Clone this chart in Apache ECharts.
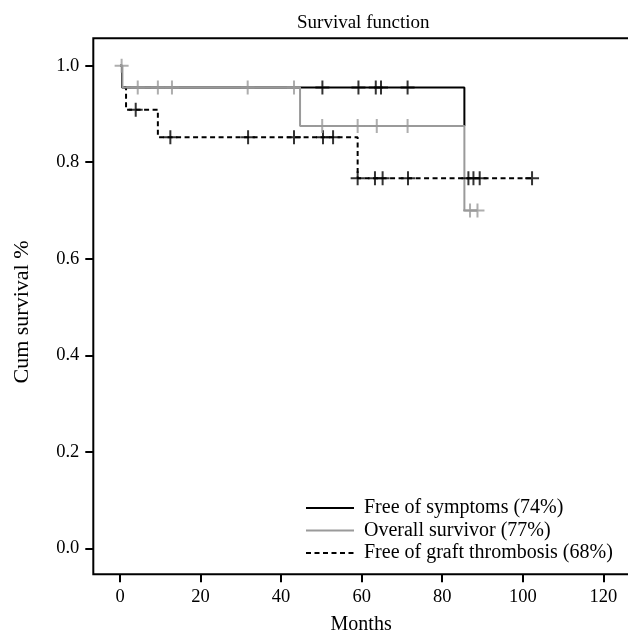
<!DOCTYPE html>
<html>
<head>
<meta charset="utf-8">
<script src="https://cdn.jsdelivr.net/npm/echarts@6/dist/echarts.min.js"></script>
<style>html,body{margin:0;padding:0;background:#fff;overflow:hidden}#c{width:628px;height:631px}</style>
</head>
<body>
<div id="c"></div>
<script>
// Step curves: [month, survival after that time]
var symptomsSteps = [[0, 1.0], [0.5, 0.955], [85.5, 0.875]];
var survivorSteps = [[0, 1.0], [0.6, 0.955], [44.7, 0.875], [85.5, 0.700], [88.75, 0.700]];
var thrombosisSteps = [[0, 1.0], [0.5, 0.955], [1.5, 0.909], [9.4, 0.852], [59.0, 0.767], [102.3, 0.767]];

// Censored observations: [month, survival]
var symptomsCensor = [[50.25, 0.955], [59.2, 0.955], [63.5, 0.955], [64.8, 0.955], [71.4, 0.955]];
var survivorCensor = [[0.4, 1.0], [4.4, 0.955], [9.4, 0.955], [12.9, 0.955], [31.7, 0.955], [43.2, 0.955],
  [50.2, 0.875], [59.0, 0.875], [63.75, 0.875], [71.4, 0.875], [86.9, 0.700], [88.75, 0.700]];
var thrombosisCensor = [[3.9, 0.909], [12.5, 0.852], [31.8, 0.852], [43.2, 0.852], [50.4, 0.852], [52.9, 0.852],
  [59.0, 0.767], [63.3, 0.767], [65.2, 0.767], [71.5, 0.767], [86.5, 0.767], [87.75, 0.767], [89.3, 0.767], [102.3, 0.767]];

var seriesNames = ['Free of symptoms (74%)', 'Overall survivor (77%)', 'Free of graft thrombosis (68%)'];
var xTicks = [0, 20, 40, 60, 80, 100, 120];
var yTicks = [0.0, 0.2, 0.4, 0.6, 0.8, 1.0];

var FONT = '"Liberation Serif", "DejaVu Serif", serif';
var GRAY = '#9a9a9a';
var CROSS = 'path://M5,0L5,10M0,5L10,5';

function censorSeries(data, color) {
  return {
    type: 'scatter', data: data, symbol: CROSS, symbolSize: 14, symbolKeepAspect: true,
    itemStyle: { color: 'none', borderColor: color, borderWidth: 2 },
    silent: true, z: 5
  };
}

var chart = echarts.init(document.getElementById('c'), null, { renderer: 'canvas', width: 628, height: 631 });
chart.setOption({
  animation: false,
  backgroundColor: '#fff',
  title: {
    text: 'Survival function', left: 292, top: 9,
    textStyle: { fontFamily: FONT, fontSize: 19, fontWeight: 'normal', color: '#000' }
  },
  legend: {
    data: seriesNames, orient: 'vertical', left: 305, top: 498,
    itemWidth: 48, itemHeight: 14, itemGap: 2.5, padding: 0,
    itemStyle: { opacity: 0, borderWidth: 0 },
    textStyle: { fontFamily: FONT, fontSize: 20, color: '#000', padding: [0, 0, 0, 5] }
  },
  grid: {
    left: 93.3, right: -1, top: 38.3, bottom: 631 - 574.3,
    outerBoundsMode: 'none', containLabel: false,
    show: true, borderColor: '#000', borderWidth: 2, backgroundColor: 'transparent'
  },
  graphic: [{
    type: 'text', x: 22, y: 312, rotation: Math.PI / 2,
    style: { text: 'Cum survival %', fontFamily: FONT, fontSize: 22, fill: '#000', align: 'center', verticalAlign: 'middle' }
  }],
  xAxis: {
    type: 'value', min: -6.63, max: 126.37,
    name: 'Months', nameLocation: 'middle', nameGap: 40,
    nameTextStyle: { fontFamily: FONT, fontSize: 20, color: '#000' },
    axisLine: { show: false, onZero: false },
    axisTick: { show: true, inside: false, length: 8, lineStyle: { color: '#000', width: 2 }, customValues: xTicks },
    axisLabel: { fontFamily: FONT, fontSize: 18.5, color: '#000', margin: 13, customValues: xTicks },
    splitLine: { show: false }
  },
  yAxis: {
    type: 'value', min: -0.0539, max: 1.0568,
    axisLine: { show: false, onZero: false },
    axisTick: { show: true, inside: false, length: 8, lineStyle: { color: '#000', width: 2 }, customValues: yTicks },
    axisLabel: { fontFamily: FONT, fontSize: 18.5, color: '#000', margin: 14, customValues: yTicks,
      formatter: function (v) { return v.toFixed(1); } },
    splitLine: { show: false }
  },
  series: [
    { name: seriesNames[0], type: 'line', step: 'end', data: symptomsSteps, symbol: 'none',
      lineStyle: { color: '#000', width: 2 }, itemStyle: { color: '#000' }, z: 2 },
    { name: seriesNames[2], type: 'line', step: 'end', data: thrombosisSteps, symbol: 'none',
      lineStyle: { color: '#000', width: 2, type: [5, 3.5] }, itemStyle: { color: '#000' }, z: 3 },
    { name: seriesNames[1], type: 'line', step: 'end', data: survivorSteps, symbol: 'none',
      lineStyle: { color: GRAY, width: 2 }, itemStyle: { color: GRAY }, z: 4 },
    censorSeries(symptomsCensor, '#000'),
    censorSeries(thrombosisCensor, '#000'),
    censorSeries(survivorCensor, GRAY)
  ]
});
</script>
</body>
</html>
